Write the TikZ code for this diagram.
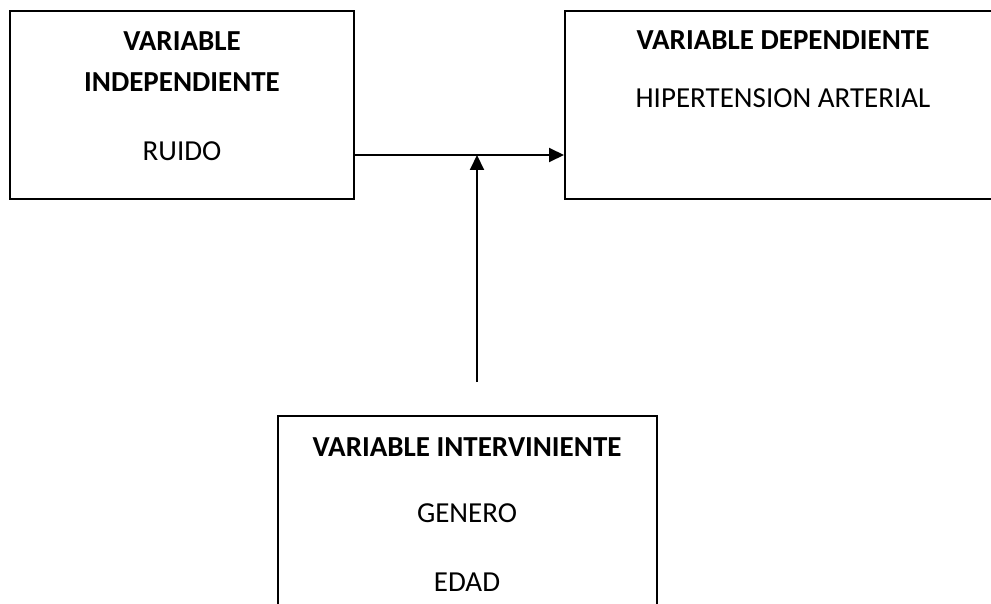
\documentclass[tikz,border=0pt]{standalone}
\usepackage{fontspec}
\setmainfont{Carlito}
\usetikzlibrary{positioning,arrows.meta}
\tikzset{
  box/.style   ={draw, rectangle, line width=2pt, inner sep=0pt},
  title/.style ={font=\fontsize{29}{33}\selectfont\bfseries, inner sep=0pt},
  item/.style  ={font=\fontsize{29}{33}\selectfont, inner sep=0pt},
  arr/.style   ={-{Triangle[length=15pt,width=14pt]}, line width=2pt},
}
\begin{document}
\begin{tikzpicture}[x=1pt,y=-1pt]
  \useasboundingbox (0,0) rectangle (991,604);
  \clip (0,0) rectangle (991,604);
  % boxes
  \node[box, minimum width=344pt, minimum height=188pt] (indep) at (182,105) {};
  \node[box, minimum width=450pt, minimum height=188pt] (dep) at (790,105) {};
  \node[box, minimum width=379pt, minimum height=210pt] (interv) at (467.5,521) {};

  \node[title] (indepA) at (182,41) {VARIABLE};
  \node[title] (indepB) at (182,82) {INDEPENDIENTE};
  \node[item]  (ruido)  at (182,151) {RUIDO};

  \node[title] (depA) at (783,40) {VARIABLE DEPENDIENTE};
  \node[item]  (hta)  at (783,98) {HIPERTENSION ARTERIAL};

  \node[title] (intA)   at (467,447) {VARIABLE INTERVINIENTE};
  \node[item]  (genero) at (467,513) {GENERO};
  \node[item]  (edad)   at (467,582) {EDAD};

  % connectors
  \coordinate (join) at (477,155);
  \coordinate (base) at (477,382);
  \draw[arr] (indep.east |- join) -- (dep.west |- join);
  \draw[arr] (base) -- (join);
\end{tikzpicture}
\end{document}
